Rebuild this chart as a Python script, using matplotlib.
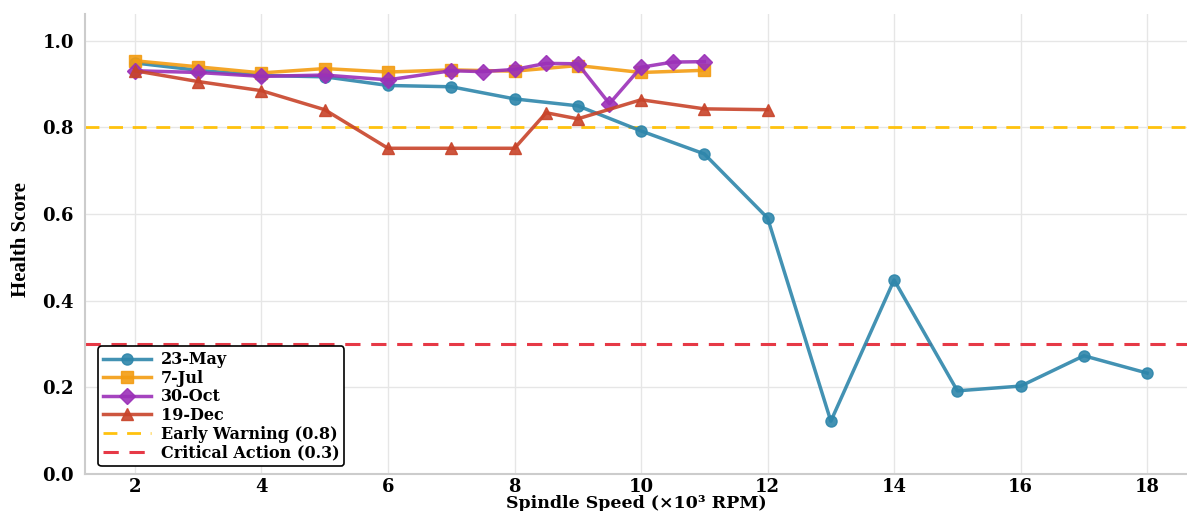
import matplotlib
matplotlib.use("Agg")
import matplotlib.pyplot as plt

# Data
may_x = [2, 3, 4, 5, 6, 7, 8, 9, 10, 11, 12, 13, 14, 15, 16, 17, 18]
may_y = [0.949, 0.932, 0.92, 0.917, 0.897, 0.894, 0.866, 0.850, 0.792, 0.739, 0.591, 0.122, 0.448, 0.192, 0.203, 0.273, 0.233]

jul_x = [2, 3, 4, 5, 6, 7, 8, 9, 10, 11]
jul_y = [0.954, 0.940, 0.926, 0.936, 0.928, 0.933, 0.930, 0.943, 0.927, 0.932]

oct_x = [2, 3, 4, 5, 6, 7, 7.5, 8, 8.5, 9, 9.5, 10, 10.5, 11]
oct_y = [0.931, 0.927, 0.918, 0.921, 0.910, 0.931, 0.929, 0.934, 0.948, 0.947, 0.855, 0.939, 0.951, 0.952]

dec_x = [2, 3, 4, 5, 6, 7, 8, 8.5, 9, 10, 11, 12]
dec_y = [0.931, 0.906, 0.885, 0.841, 0.752, 0.752, 0.752, 0.834, 0.820, 0.864, 0.843, 0.841]

labels = ["23-May", "7-Jul", "30-Oct", "19-Dec"]
warn_level = 0.8
crit_level = 0.3
xticks = [2, 4, 6, 8, 10, 12, 14, 16, 18]
yticks = [0.0, 0.2, 0.4, 0.6, 0.8, 1.0]

fig = plt.figure(figsize=(11.87, 5.11), dpi=100)
ax = fig.add_axes([85/1187, (511-474)/511, (1187-85)/1187, (474-14)/511])

series = [
    (may_x, may_y, "#2E86AB", "o"),
    (jul_x, jul_y, "#F39C12", "s"),
    (oct_x, oct_y, "#9B30B8", "D"),
    (dec_x, dec_y, "#C8442A", "^"),
]
for (x, y, c, m), lab in zip(series, labels):
    ax.plot(x, y, color=c, marker=m, markersize=8, linewidth=2.5, alpha=0.9, label=lab, zorder=3)

ax.axhline(warn_level, color="#FFC20E", linestyle="--", linewidth=2, dashes=(5, 3.5),
           label="Early Warning (0.8)", zorder=2)
ax.axhline(crit_level, color="#E63946", linestyle="--", linewidth=2.2, dashes=(5, 3.5),
           label="Critical Action (0.3)", zorder=2)

ax.set_xlim(1.21, 18.63)
ax.set_ylim(0, 1.062)
ax.set_xticks(xticks)
ax.set_yticks(yticks)
ax.set_yticklabels([f"{v:.1f}" for v in yticks])
ax.grid(True, color="#e6e6e6", linewidth=1)
ax.set_axisbelow(True)

for s in ["top", "right"]:
    ax.spines[s].set_visible(False)
for s in ["left", "bottom"]:
    ax.spines[s].set_color("#cccccc")
    ax.spines[s].set_linewidth(1.5)

ax.tick_params(axis="x", length=0, pad=3)
ax.tick_params(axis="y", length=0, pad=8)
for lbl in ax.get_xticklabels() + ax.get_yticklabels():
    lbl.set_fontfamily("DejaVu Serif")
    lbl.set_fontweight("bold")
    lbl.set_fontsize(13)

ax.set_xlabel("Spindle Speed (×10³ RPM)", fontfamily="DejaVu Serif", fontweight="bold",
              fontsize=12.5, labelpad=-1)
ax.set_ylabel("Health Score", fontfamily="Liberation Serif", fontweight="bold",
              fontsize=15)
ax.yaxis.set_label_coords(-0.049, 0.51)

leg = ax.legend(loc="lower left", prop={"family": "DejaVu Serif", "weight": "bold", "size": 11.5},
                frameon=True, fancybox=True, edgecolor="black", framealpha=1,
                borderpad=0.3, labelspacing=0.1, handlelength=3.0, handletextpad=0.6,
                bbox_to_anchor=(0.005, 0.0))
leg.get_frame().set_linewidth(1.2)

fig.savefig("out.png", dpi=100)
